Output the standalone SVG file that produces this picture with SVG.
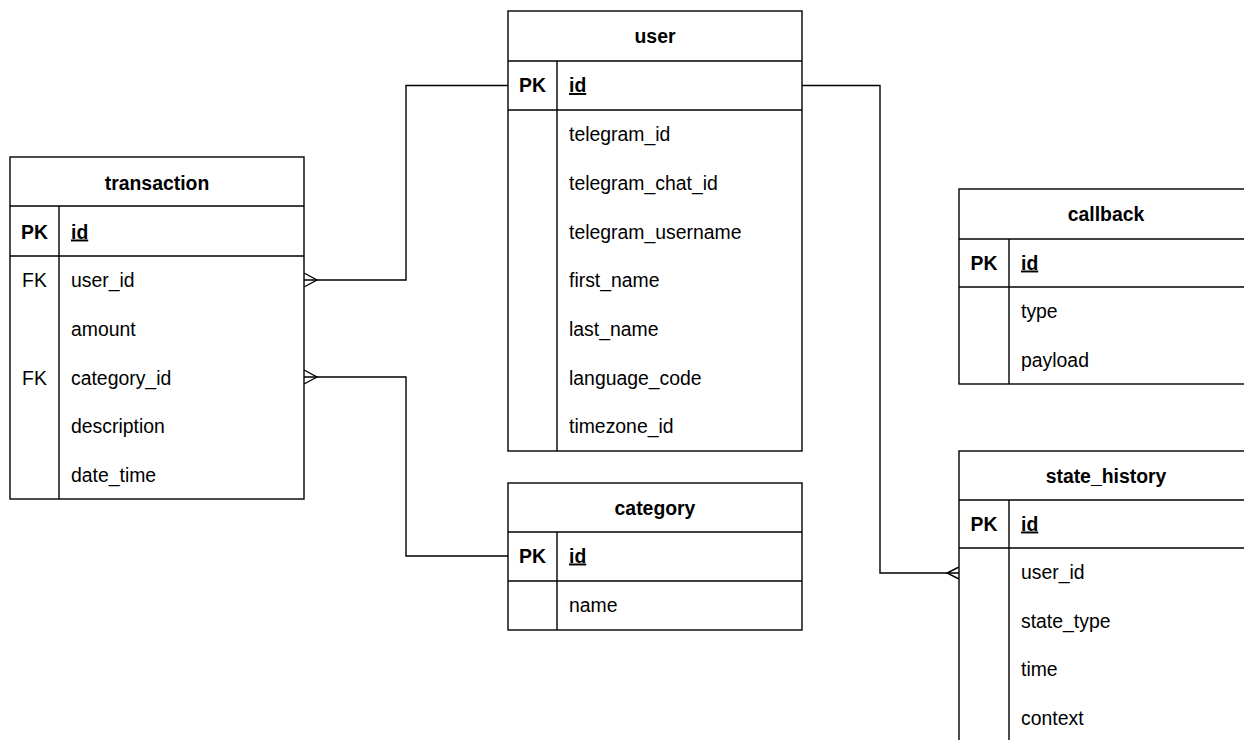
<svg xmlns="http://www.w3.org/2000/svg" width="1244" height="740" viewBox="0 0 1244 740">
<style>
.box{fill:#fff;stroke:#000;stroke-width:1.4}
.ln{stroke:#000;stroke-width:1.4}
.conn{fill:none;stroke:#000;stroke-width:1.4}
text{font-family:"Liberation Sans",Arial,Helvetica,sans-serif;font-size:19.4px;fill:#000}
.title{font-weight:bold;text-anchor:middle}
.pk{font-weight:bold;text-anchor:middle}
.key{text-anchor:middle}
.pkid{font-weight:bold;text-decoration:underline}
</style>
<rect width="1244" height="740" fill="#fff"/>
<g id="connectors">
<path class="conn" d="M508,85.5 H406 V280 H304"/>
<path class="conn" d="M304,273 L317,280 L304,287"/>
<path class="conn" d="M508,556 H406 V377 H304"/>
<path class="conn" d="M304,370 L317,377 L304,384"/>
<path class="conn" d="M802,85.5 H880 V573 H959"/>
<path class="conn" d="M959,567 L947,573 L959,579"/>
</g>
<g id="transaction">
<rect class="box" x="10" y="157" width="294" height="342"/>
<line class="ln" x1="10" y1="206" x2="304" y2="206"/>
<line class="ln" x1="10" y1="256" x2="304" y2="256"/>
<line class="ln" x1="59" y1="206" x2="59" y2="499"/>
<text class="title" x="157" y="189.5">transaction</text>
<text class="pk" x="34.5" y="238.5">PK</text>
<text class="pkid" x="71" y="238.5">id</text>
<text class="key" x="34.5" y="287">FK</text>
<text x="71" y="287">user_id</text>
<text x="71" y="336">amount</text>
<text class="key" x="34.5" y="384.5">FK</text>
<text x="71" y="384.5">category_id</text>
<text x="71" y="433">description</text>
<text x="71" y="482">date_time</text>
</g>
<g id="user">
<rect class="box" x="508" y="11" width="294" height="440"/>
<line class="ln" x1="508" y1="61" x2="802" y2="61"/>
<line class="ln" x1="508" y1="110" x2="802" y2="110"/>
<line class="ln" x1="557" y1="61" x2="557" y2="451"/>
<text class="title" x="655" y="43">user</text>
<text class="pk" x="532.5" y="92">PK</text>
<text class="pkid" x="569" y="92">id</text>
<text x="569" y="140.5">telegram_id</text>
<text x="569" y="189.5">telegram_chat_id</text>
<text x="569" y="238.5">telegram_username</text>
<text x="569" y="287">first_name</text>
<text x="569" y="335.5">last_name</text>
<text x="569" y="384.5">language_code</text>
<text x="569" y="433">timezone_id</text>
</g>
<g id="category">
<rect class="box" x="508" y="483" width="294" height="147"/>
<line class="ln" x1="508" y1="532" x2="802" y2="532"/>
<line class="ln" x1="508" y1="581" x2="802" y2="581"/>
<line class="ln" x1="557" y1="532" x2="557" y2="630"/>
<text class="title" x="655" y="515">category</text>
<text class="pk" x="532.5" y="562.5">PK</text>
<text class="pkid" x="569" y="562.5">id</text>
<text x="569" y="611.5">name</text>
</g>
<g id="callback">
<rect class="box" x="959" y="189" width="294" height="195"/>
<line class="ln" x1="959" y1="239" x2="1253" y2="239"/>
<line class="ln" x1="959" y1="287" x2="1253" y2="287"/>
<line class="ln" x1="1009" y1="239" x2="1009" y2="384"/>
<text class="title" x="1106" y="221">callback</text>
<text class="pk" x="984" y="269.5">PK</text>
<text class="pkid" x="1021" y="269.5">id</text>
<text x="1021" y="317.5">type</text>
<text x="1021" y="366.5">payload</text>
</g>
<g id="state_history">
<rect class="box" x="959" y="451" width="294" height="360"/>
<line class="ln" x1="959" y1="500" x2="1253" y2="500"/>
<line class="ln" x1="959" y1="548" x2="1253" y2="548"/>
<line class="ln" x1="1009" y1="500" x2="1009" y2="811"/>
<text class="title" x="1106" y="483">state_history</text>
<text class="pk" x="984" y="530.5">PK</text>
<text class="pkid" x="1021" y="530.5">id</text>
<text x="1021" y="579">user_id</text>
<text x="1021" y="627.5">state_type</text>
<text x="1021" y="676">time</text>
<text x="1021" y="724.5">context</text>
</g>
</svg>
